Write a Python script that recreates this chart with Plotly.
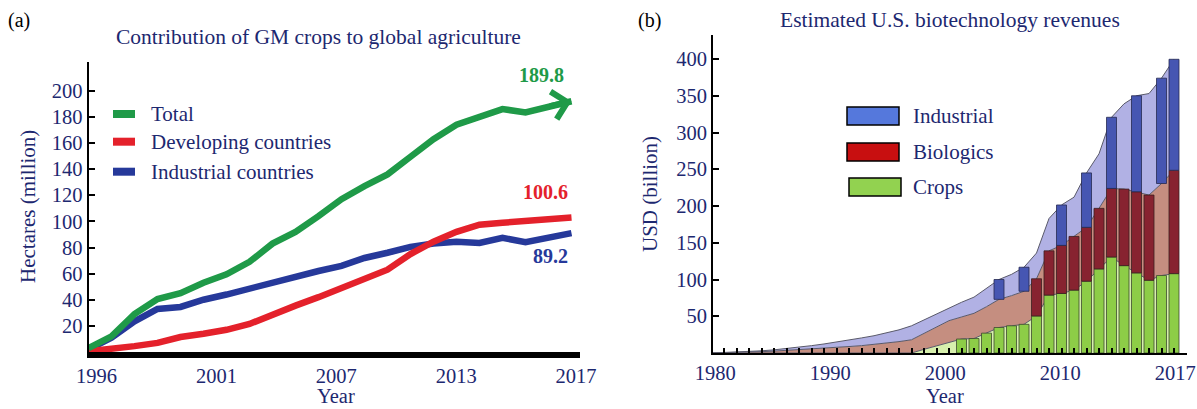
import numpy as np
import plotly.graph_objects as go

W, H = 1197, 409

# ---------------- Panel (a) data ----------------
years_a = list(range(1996, 2018))
total = [3, 12, 29, 40.5, 45, 53, 59.5, 69, 83, 92, 104, 117, 127, 136,
         149.5, 163, 174, 180, 186, 183.5, 188, 192]
developing = [0.5, 2, 4.5, 7, 11.5, 14, 17, 21.5, 29, 35.5, 42, 49, 55.5, 63,
              75, 84.5, 92, 97.5, 99, 100, 102, 103]
industrial_a = [2, 11, 23.5, 33, 34.5, 40, 44, 48.5, 54, 57.5, 62, 66, 72, 76,
                80.5, 83, 84.5, 83.5, 87.5, 84, 87, 91]
series_a_names = ["Total", "Developing countries", "Industrial countries"]
end_labels = ["189.8", "100.6", "89.2"]
xtick_labels_a = ["1996", "2001", "2007", "2013", "2017"]
ytick_vals_a = [20, 40, 60, 80, 100, 120, 140, 160, 180, 200]

# ---------------- Panel (b) data ----------------
years_b = list(range(1980, 2018))
crops = [0] * 17 + [5, 10, 14.5, 19, 19.7, 27, 34.7, 37, 39, 50.4, 78.8, 81,
                    85.6, 97.7, 114.4, 130.6, 118.9, 109, 99, 105.4, 108]
biologics = [0, 0.3, 0.7, 1.2, 1.8, 2.6, 3.5, 4.5, 5.5, 6.5, 7.6, 8.8, 10.0,
             11.6, 13.5, 15.5, 18.0, 22, 26, 29.5, 30, 34.3, 36, 38.3, 41, 45,
             50.6, 60.2, 65.4, 73, 73.3, 82.4, 93.3, 104.1, 110.4, 115.9,
             125.2, 140.6]
industrial_b = [0, 0.2, 0.5, 0.8, 1.2, 1.7, 2.5, 3.5, 4.5, 5.8, 7.2, 8.7, 10.5,
                11.9, 13.5, 16.0, 19.0, 18, 17, 18, 20, 22, 25, 27, 29, 32.7,
                35, 44, 55, 53.4, 74, 74.2, 96.8, 116, 130.6, 138.1, 143.3, 151]
crop_bar_years = list(range(2000, 2018))
bio_bar_years = [2006, 2007, 2008, 2009, 2010, 2011, 2012, 2013, 2014, 2015, 2017]
ind_bar_years = [2003, 2005, 2008, 2010, 2012, 2014, 2016, 2017]
series_b_names = ["Industrial", "Biologics", "Crops"]
xtick_labels_b = ["1980", "1990", "2000", "2010", "2017"]
ytick_vals_b = [50, 100, 150, 200, 250, 300, 350, 400]

# ---------------- styling ----------------
NAVY = "#1d2870"
FONT = "Liberation Serif"
GREEN, RED, BLUE = "#1f9a48", "#e4212b", "#26399a"


def px(x):
    return x / W


def py(y):
    return 1 - y / H


fig = go.Figure()

# Panel (a) lines
for vals, col, name in [(industrial_a, BLUE, series_a_names[2]),
                        (developing, RED, series_a_names[1]),
                        (total, GREEN, series_a_names[0])]:
    fig.add_trace(go.Scatter(x=years_a, y=vals, mode="lines", name=name,
                             line=dict(color=col, width=6.5),
                             xaxis="x", yaxis="y", showlegend=False,
                             hoverinfo="skip"))

# Panel (b) stacked areas (base subplot x2/y2, drawn beneath the bars)
lookup_c = dict(zip(years_b, crops))
lookup_b = dict(zip(years_b, biologics))
lookup_i = dict(zip(years_b, industrial_b))
for vals, fc, name in [(crops, "#d7f0ad", "Crops"),
                       (biologics, "#c58e80", "Biologics"),
                       (industrial_b, "#b1b1e4", "Industrial")]:
    fig.add_trace(go.Scatter(x=years_b, y=vals, mode="lines", stackgroup="b",
                             fillcolor=fc, line=dict(color="#5a5a6a", width=1),
                             name=name, xaxis="x2", yaxis="y2",
                             showlegend=False, hoverinfo="skip"))

# Panel (b) bars on the overlaying subplot x3/y3
BAR_W = 0.8
fig.add_trace(go.Bar(x=crop_bar_years, y=[lookup_c[y] for y in crop_bar_years],
                     base=0, width=BAR_W, marker=dict(color="#8dcd47",
                     line=dict(color="#3d4a30", width=0.8)),
                     xaxis="x3", yaxis="y3", showlegend=False))
fig.add_trace(go.Bar(x=bio_bar_years, y=[lookup_b[y] for y in bio_bar_years],
                     base=[lookup_c[y] for y in bio_bar_years], width=BAR_W,
                     marker=dict(color="#872330", line=dict(color="#3a2020", width=0.8)),
                     xaxis="x3", yaxis="y3", showlegend=False))
fig.add_trace(go.Bar(x=ind_bar_years, y=[lookup_i[y] for y in ind_bar_years],
                     base=[lookup_c[y] + lookup_b[y] for y in ind_bar_years],
                     width=BAR_W,
                     marker=dict(color="#4656b2", line=dict(color="#262a50", width=0.8)),
                     xaxis="x3", yaxis="y3", showlegend=False))

# axis geometry (pixels)
ax_l, ax_r, ay_b, ay_t = 88.5, 580, 352, 62
bx_l, bx_r, by_b, by_t = 713, 1187, 353, 35

xa_range = [1996, 1996 + (ax_r - ax_l) / 23.0]
xb_range = [2017 - (1174 - bx_l) / 12.5, 2017 - (1174 - bx_r) / 12.5]
yb_range = [0, (by_b - by_t) / 0.735]

tickfont = dict(family=FONT, size=20.5, color=NAVY)
hidden = dict(showline=False, ticks="", showticklabels=False, showgrid=False,
              zeroline=False, automargin=False)

fig.update_layout(
    template="none",
    width=W, height=H, margin=dict(l=0, r=0, t=0, b=0, autoexpand=False),
    paper_bgcolor="white", plot_bgcolor="rgba(0,0,0,0)",
    barmode="overlay", showlegend=False,
    xaxis=dict(domain=[px(ax_l), px(ax_r)], range=xa_range,
               tickmode="array",
               tickvals=list(np.linspace(1996.35, 2017.2, len(xtick_labels_a))),
               ticktext=xtick_labels_a, ticks="", showgrid=False,
               zeroline=False, showline=True, linecolor="black", linewidth=6,
               tickfont=tickfont, anchor="y", automargin=False),
    yaxis=dict(domain=[py(ay_b), py(ay_t)],
               range=[0, (ay_b - ay_t) / 1.306], tickmode="array",
               tickvals=ytick_vals_a, ticks="inside", ticklen=6, tickwidth=1.5,
               tickcolor="black", showgrid=False, zeroline=False,
               showline=True, linecolor="black", linewidth=2,
               tickfont=tickfont, anchor="x", automargin=False),
    xaxis2=dict(domain=[px(bx_l), px(bx_r)], range=xb_range, anchor="y2",
                **hidden),
    yaxis2=dict(domain=[py(by_b), py(by_t)], range=yb_range, anchor="x2",
                **hidden),
    xaxis3=dict(overlaying="x2", range=xb_range, anchor="y3",
                tickmode="array",
                tickvals=list(np.linspace(1980.3, 2017.1, len(xtick_labels_b))),
                ticktext=xtick_labels_b, ticks="", showgrid=False,
                zeroline=False, showline=True, linecolor="black", linewidth=2,
                tickfont=tickfont, automargin=False,
                minor=dict(tickmode="array", tickvals=years_b[1:], ticks="inside",
                           ticklen=5, tickwidth=1.5, tickcolor="black",
                           showgrid=False)),
    yaxis3=dict(overlaying="y2", range=yb_range, anchor="x3",
                tickmode="array",
                tickvals=ytick_vals_b, ticks="inside", ticklen=6, tickwidth=1.5,
                tickcolor="black", showgrid=False, zeroline=False,
                showline=True, linecolor="black", linewidth=2,
                tickfont=tickfont, automargin=False),
)

ann = []


def text(x, y, s, size=20, color=NAVY, angle=0, xanchor="center", bold=False):
    ann.append(dict(x=px(x), y=py(y), xref="paper", yref="paper",
                    text=f"<b>{s}</b>" if bold else s, showarrow=False,
                    font=dict(family=FONT, size=size, color=color),
                    textangle=angle, xanchor=xanchor, yanchor="middle"))


# Panel (a) texts
text(19, 21, "(a)", 20, "black")
text(318, 37, "Contribution of GM crops to global agriculture", 21.5)
text(28, 207, "Hectares (million)", 21, angle=-90)
text(336, 396, "Year", 20.5)
text(541, 75, end_labels[0], 20, GREEN, bold=True)
text(545, 192, end_labels[1], 20, RED, bold=True)
text(550, 256, end_labels[2], 20, BLUE, bold=True)

# Panel (a) legend
shapes = []
for (yc, col, name) in [(114, GREEN, series_a_names[0]),
                        (141.7, RED, series_a_names[1]),
                        (171.7, BLUE, series_a_names[2])]:
    shapes.append(dict(type="line", xref="paper", yref="paper",
                       x0=px(113), x1=px(135), y0=py(yc), y1=py(yc),
                       line=dict(color=col, width=8)))
    text(149, yc, name, 21, xanchor="left")

# Arrow head on total line
ann.append(dict(x=years_a[-1], y=total[-1], ax=years_a[-2], ay=total[-2],
                xref="x", yref="y", axref="x", ayref="y", text="",
                showarrow=True, arrowhead=4, arrowsize=0.9, arrowwidth=6,
                arrowcolor=GREEN, standoff=0))

# Panel (b) texts
text(649, 21, "(b)", 20, "black")
text(950, 20, "Estimated U.S. biotechnology revenues", 21.5)
text(650, 194, "USD (billion)", 21, angle=-90)
text(945, 396, "Year", 20.5)

# Panel (b) legend
for (y0, y1, col, name, xl) in [(107, 125, "#5578dc", series_b_names[0], 847),
                                (143, 161, "#c80f10", series_b_names[1], 847),
                                (178, 196, "#92d250", series_b_names[2], 849)]:
    shapes.append(dict(type="rect", xref="paper", yref="paper",
                       x0=px(xl), x1=px(xl + 52), y0=py(y1), y1=py(y0),
                       fillcolor=col, line=dict(color="black", width=1.5)))
    text(911, (y0 + y1) / 2, name, 21, xanchor="left")

fig.update_layout(annotations=ann, shapes=shapes)
fig.write_html("out.html")
